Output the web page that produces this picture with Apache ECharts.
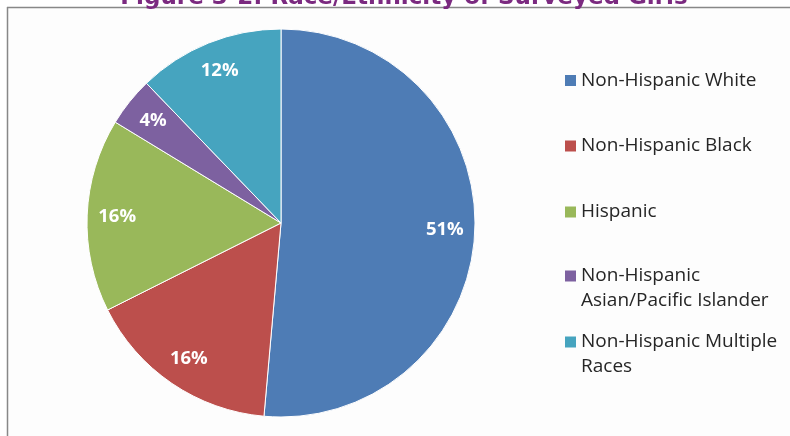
<!DOCTYPE html>
<html>
<head>
<meta charset="utf-8">
<script src="https://cdn.jsdelivr.net/npm/echarts@6/dist/echarts.min.js"></script>
<style>
html,body{margin:0;padding:0;background:#fff;}
#chart{width:790px;height:436px;}
</style>
</head>
<body>
<div id="chart"></div>
<script>
// Data
const titleText = 'Figure 3-2: Race/Ethnicity of Surveyed Girls';
const categories = ['Non-Hispanic White', 'Non-Hispanic Black', 'Hispanic', 'Non-Hispanic Asian/Pacific Islander', 'Non-Hispanic Multiple Races'];
const legendLines = [['Non-Hispanic White'], ['Non-Hispanic Black'], ['Hispanic'], ['Non-Hispanic', 'Asian/Pacific Islander'], ['Non-Hispanic Multiple', 'Races']];
const values = [51.4, 16.2, 16.1, 4.1, 12.2];
const labels = ['51%', '16%', '16%', '4%', '12%'];
const colors = ['#4E7CB5', '#BC4F4C', '#99B85A', '#7D61A0', '#46A4BF'];

const chart = echarts.init(document.getElementById('chart'), null, {renderer: 'canvas'});

const pieData = categories.map((c, i) => ({name: c, value: values[i], itemStyle: {color: colors[i]}}));
const labelData = categories.map((c, i) => ({name: c, value: values[i]}));
const lineH = 25;
const legendCenters = [80.5, 146, 212, 276, 342];

const legends = categories.map((c, i) => {
  const lines = legendLines[i];
  const n = lines.length;
  // pad with blank lines above so that the first text line sits level with the marker
  const shown = n > 1 ? new Array(n - 1).fill(' ').concat(lines) : lines;
  const boxH = lineH * shown.length;
  return {
    orient: 'vertical',
    left: 565,
    top: legendCenters[i] - boxH / 2,
    padding: 0,
    itemWidth: 11,
    itemHeight: 11,
    itemGap: 0,
    icon: 'rect',
    selectedMode: false,
    itemStyle: {borderWidth: 0},
    data: [c],
    formatter: () => shown.join('\n'),
    textStyle: {
      fontFamily: 'Open Sans',
      fontSize: 19,
      color: '#262626',
      lineHeight: lineH
    }
  };
});

chart.setOption({
  animation: false,
  backgroundColor: '#ffffff',
  graphic: [
    {type: 'rect', shape: {x: 8, y: 8, width: 782, height: 428}, style: {fill: '#fdfdfd'}, z: -10},
    {type: 'line', shape: {x1: 7, y1: 7.5, x2: 790, y2: 7.5}, style: {stroke: '#888888', lineWidth: 1.5}},
    {type: 'line', shape: {x1: 7.5, y1: 7, x2: 7.5, y2: 436}, style: {stroke: '#888888', lineWidth: 1.5}},
    {type: 'text', x: 404, y: -2, style: {text: titleText, font: 'bold 23px "DejaVu Sans"', fill: '#7B2A80', align: 'center', verticalAlign: 'middle'}}
  ],
  legend: legends,
  series: [
    {
      type: 'pie',
      center: [281, 223],
      radius: [0, 194],
      startAngle: 90,
      clockwise: true,
      silent: true,
      itemStyle: {borderColor: '#ffffff', borderWidth: 1},
      label: {show: false},
      labelLine: {show: false},
      data: pieData
    },
    {
      type: 'pie',
      center: [281, 223],
      radius: [128, 194],
      startAngle: 90,
      clockwise: true,
      silent: true,
      legendHoverLink: false,
      itemStyle: {color: 'rgba(0,0,0,0)', borderWidth: 0},
      label: {
        show: true,
        position: 'inside',
        formatter: p => labels[p.dataIndex],
        color: '#ffffff',
        fontFamily: 'Open Sans',
        fontWeight: 'bold',
        fontSize: 18.5
      },
      labelLine: {show: false},
      data: labelData
    }
  ]
});
</script>
</body>
</html>
